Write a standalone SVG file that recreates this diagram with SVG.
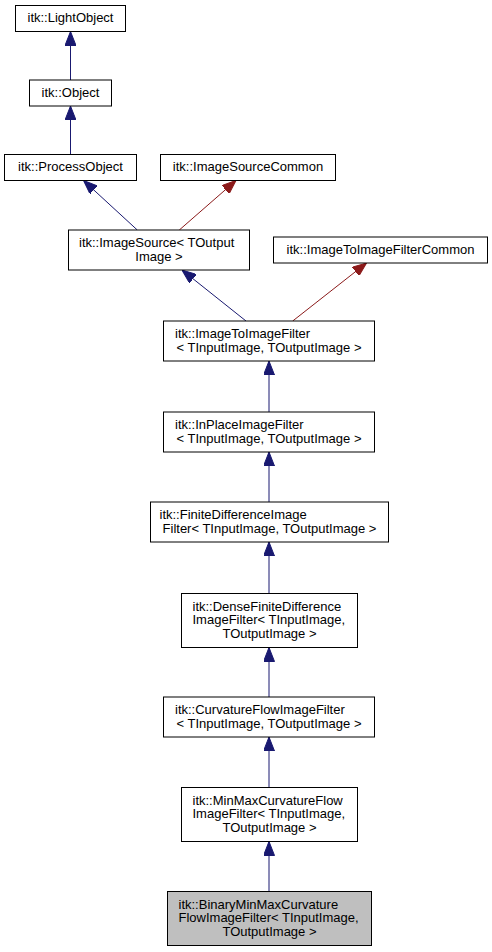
<svg xmlns="http://www.w3.org/2000/svg" width="492" height="952" viewBox="0 0 492 952">
<style>
.node rect{fill:#ffffff;stroke:#000000;stroke-width:1}
.node.cur rect{fill:#bfbfbf}
text{font-family:"Liberation Sans",Arial,Helvetica,sans-serif;font-size:13px;fill:#000000}
.c{text-anchor:middle}
.e{fill:none;stroke-width:1}
.blue{stroke:#191970}
.red{stroke:#8b1a1a}
</style>
<defs>
<marker id="ab" viewBox="0 0 14 11" markerWidth="14" markerHeight="11" markerUnits="userSpaceOnUse" refX="14" refY="5.5" orient="auto"><path d="M0,0 L14,5.5 L0,11 z" fill="#191970" stroke="#191970"/></marker>
<marker id="ar" viewBox="0 0 14 11" markerWidth="14" markerHeight="11" markerUnits="userSpaceOnUse" refX="14" refY="5.5" orient="auto"><path d="M0,0 L14,5.5 L0,11 z" fill="#8b1a1a" stroke="#8b1a1a"/></marker>
</defs>
<rect width="492" height="952" fill="#ffffff"/>
<g id="edges">
<path class="e blue" d="M70.5,80 L70.5,31.5" marker-end="url(#ab)"/>
<path class="e blue" d="M70.5,154.5 L70.5,106" marker-end="url(#ab)"/>
<path class="e blue" d="M137.3,230 L83.5,180.5" marker-end="url(#ab)"/>
<path class="e red" d="M179.3,230 L236,180.5" marker-end="url(#ar)"/>
<path class="e blue" d="M246,321 L182,270" marker-end="url(#ab)"/>
<path class="e red" d="M292.7,321 L366.5,263" marker-end="url(#ar)"/>
<path class="e blue" d="M269,412 L269,361" marker-end="url(#ab)"/>
<path class="e blue" d="M269,502 L269,452" marker-end="url(#ab)"/>
<path class="e blue" d="M269,593.5 L269,542" marker-end="url(#ab)"/>
<path class="e blue" d="M269,697 L269,647.5" marker-end="url(#ab)"/>
<path class="e blue" d="M269,787.5 L269,737" marker-end="url(#ab)"/>
<path class="e blue" d="M269,891.5 L269,841.5" marker-end="url(#ab)"/>
</g>
<g id="n_lightobject" class="node"><rect x="15.5" y="5.5" width="110" height="26"/><text class="c" x="70.5" y="21.8">itk::LightObject</text></g>
<g id="n_object" class="node"><rect x="29.5" y="80" width="82" height="26"/><text class="c" x="70.5" y="96.5">itk::Object</text></g>
<g id="n_processobject" class="node"><rect x="4.5" y="154.5" width="132" height="26"/><text class="c" x="70.5" y="171">itk::ProcessObject</text></g>
<g id="n_imagesourcecommon" class="node"><rect x="160.5" y="154.5" width="175" height="26"/><text class="c" x="248" y="171">itk::ImageSourceCommon</text></g>
<g id="n_imagesource" class="node"><rect x="68.5" y="230" width="181" height="40"/><text x="79" y="247.3">itk::ImageSource&lt; TOutput</text><text class="c" x="159" y="260.8">Image &gt;</text></g>
<g id="n_imagetoimagefiltercommon" class="node"><rect x="273.5" y="237" width="214" height="26"/><text class="c" x="380.5" y="253.5">itk::ImageToImageFilterCommon</text></g>
<g id="n_imagetoimagefilter" class="node"><rect x="163.5" y="321" width="211" height="40"/><text x="175" y="338.3">itk::ImageToImageFilter</text><text class="c" x="269" y="351.8">&lt; TInputImage, TOutputImage &gt;</text></g>
<g id="n_inplaceimagefilter" class="node"><rect x="163.5" y="412" width="211" height="40"/><text x="175" y="429.3">itk::InPlaceImageFilter</text><text class="c" x="269" y="442.8">&lt; TInputImage, TOutputImage &gt;</text></g>
<g id="n_finitedifferenceimagefilter" class="node"><rect x="150.5" y="502" width="238" height="40"/><text x="159.5" y="519.3">itk::FiniteDifferenceImage</text><text class="c" x="269.5" y="532.8">Filter&lt; TInputImage, TOutputImage &gt;</text></g>
<g id="n_densefinitedifferenceimagefilter" class="node"><rect x="181.5" y="593.5" width="176" height="54"/><text x="192.5" y="610.7">itk::DenseFiniteDifference</text><text x="192.5" y="624.2">ImageFilter&lt; TInputImage,</text><text class="c" x="269.5" y="637.7"> TOutputImage &gt;</text></g>
<g id="n_curvatureflowimagefilter" class="node"><rect x="163.5" y="697" width="211" height="40"/><text x="175" y="714.3">itk::CurvatureFlowImageFilter</text><text class="c" x="269" y="727.8">&lt; TInputImage, TOutputImage &gt;</text></g>
<g id="n_minmaxcurvatureflowimagefilter" class="node"><rect x="181.5" y="787.5" width="176" height="54"/><text x="192.5" y="804.7">itk::MinMaxCurvatureFlow</text><text x="192.5" y="818.2">ImageFilter&lt; TInputImage,</text><text class="c" x="269.5" y="831.7"> TOutputImage &gt;</text></g>
<g id="n_binaryminmaxcurvatureflowimagefilter" class="node cur"><rect x="167.5" y="891.5" width="204" height="54"/><text x="178.5" y="908.7">itk::BinaryMinMaxCurvature</text><text x="178.5" y="922.2">FlowImageFilter&lt; TInputImage,</text><text class="c" x="269.5" y="935.7"> TOutputImage &gt;</text></g>
</svg>
